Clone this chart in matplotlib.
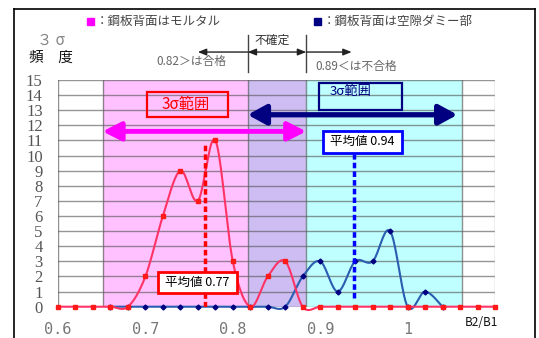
import matplotlib.pyplot as plt
import numpy as np
from matplotlib.patches import Rectangle
from matplotlib.lines import Line2D

plt.rcParams['font.family'] = ['Noto Sans CJK JP', 'DejaVu Sans']

# B2/B1 ratio classes and 3-sigma frequency
x_mortar = [0.60, 0.62, 0.64, 0.66, 0.68, 0.70, 0.72, 0.74, 0.76, 0.78, 0.80, 0.82, 0.84,
            0.86, 0.88, 0.90, 0.92, 0.94, 0.96, 0.98, 1.00, 1.02, 1.04, 1.06, 1.08, 1.10]
y_mortar = [0, 0, 0, 0, 0, 2, 6, 9, 7, 11, 3, 0, 2,
            3, 0, 0, 0, 0, 0, 0, 0, 0, 0, 0, 0, 0]
x_void = [0.66, 0.68, 0.70, 0.72, 0.74, 0.76, 0.78, 0.80, 0.82, 0.84,
          0.86, 0.88, 0.90, 0.92, 0.94, 0.96, 0.98, 1.00, 1.02, 1.04]
y_void = [0, 0, 0, 0, 0, 0, 0, 0, 0, 0,
          0, 2, 3, 1, 3, 3, 5, 0, 1, 0]

mean_mortar = 0.77
mean_void = 0.94
pass_limit = 0.817    # 0.82
fail_limit = 0.884    # 0.89
range_mortar = [0.651, 0.884]
range_void = [0.817, 1.057]
cyan_end = 1.062

xticks = [0.6, 0.7, 0.8, 0.9, 1.0]
xtick_labels = ['0.6', '0.7', '0.8', '0.9', '1']
yticks = list(range(16))

W, H = 539, 338


def fx(x):
    return x / W


def fy(y):
    return 1 - y / H


def smooth(x, y, n=20):
    # excel-like bezier smoothing of the polyline
    x = np.asarray(x, float)
    y = np.asarray(y, float)
    px = np.concatenate([[x[0]], x, [x[-1]]])
    py = np.concatenate([[y[0]], y, [y[-1]]])
    t = np.linspace(0, 1, n)[:, None]
    xs, ys = [], []
    for i in range(1, len(px) - 2):
        p0 = np.array([px[i - 1], py[i - 1]])
        p1 = np.array([px[i], py[i]])
        p2 = np.array([px[i + 1], py[i + 1]])
        p3 = np.array([px[i + 2], py[i + 2]])
        c1 = p1 + (p2 - p0) / 6
        c2 = p2 - (p3 - p1) / 6
        b = (1 - t) ** 3 * p1 + 3 * (1 - t) ** 2 * t * c1 + 3 * (1 - t) * t ** 2 * c2 + t ** 3 * p2
        xs.append(b[:, 0])
        ys.append(b[:, 1])
    return np.concatenate(xs), np.concatenate(ys)


fig = plt.figure(figsize=(W / 100, H / 100), dpi=100)
ax = fig.add_axes([fx(58), fy(306.7), 437 / W, 226.7 / H])
ax.set_xlim(0.6, 1.1)
ax.set_ylim(0, 15)
for s in ax.spines.values():
    s.set_visible(False)

# background bands
ax.axvspan(range_mortar[0], pass_limit, color='#FFC1FF', zorder=0, lw=0)
ax.axvspan(pass_limit, fail_limit, color='#CDBDF3', zorder=0, lw=0)
ax.axvspan(fail_limit, cyan_end, color='#C0FFFF', zorder=0, lw=0)

# grid
for v in yticks:
    ax.axhline(v, color='#505050', alpha=0.6, lw=1, zorder=1)
for v in [0.6, range_mortar[0], pass_limit, fail_limit, cyan_end]:
    ax.axvline(v, color='#606060', alpha=0.7, lw=1, zorder=1)
ax.axvline(1.1, color='#BBBBBB', lw=1, zorder=1)

ax.set_xticks(xticks)
ax.set_xticklabels(xtick_labels, family='DejaVu Sans Mono', fontsize=11, color='#777777')
ax.set_yticks(yticks)
ax.set_yticklabels([str(v) for v in yticks], family='Liberation Serif', fontsize=12, color='#555555')
ax.tick_params(axis='x', length=0, pad=11)
ax.tick_params(axis='y', length=0, pad=11)

# 3 sigma range boxes
ax.add_patch(Rectangle((0.702, 12.55), 0.093, 1.65, fill=False, ec='#FF0000', lw=1.6, zorder=2))
ax.text(0.7455, 13.4, '3σ範囲', color='#FF0000', fontsize=11, ha='center', va='center', zorder=2)
ax.add_patch(Rectangle((0.8986, 13.0), 0.095, 1.8, fill=False, ec='#000080', lw=1.6, zorder=2))
ax.text(0.9345, 14.25, '3σ範囲', color='#000080', fontsize=9.5, ha='center', va='center', zorder=2)

# range arrows
ax.annotate('', xy=(range_mortar[0], 11.6), xytext=(range_mortar[1], 11.6),
            arrowprops=dict(arrowstyle='<|-|>,head_length=0.55,head_width=0.28',
                            mutation_scale=20, lw=3.5, color='#FF00FF',
                            shrinkA=0, shrinkB=0), zorder=3)
ax.annotate('', xy=(range_void[0], 12.7), xytext=(range_void[1], 12.7),
            arrowprops=dict(arrowstyle='<|-|>,head_length=0.55,head_width=0.3',
                            mutation_scale=20, lw=3.8, color='#000080',
                            shrinkA=0, shrinkB=0), zorder=3)

# data lines
sx, sy = smooth(x_void, y_void)
ax.plot(sx, sy, color='#2A5CB0', lw=1.5, zorder=4, clip_on=False)
ax.plot(x_void, y_void, ls='none', marker='D', ms=2.5, color='#000080', zorder=4, clip_on=False)
sx, sy = smooth(x_mortar, y_mortar)
ax.plot(sx, sy, color='#FF3366', lw=1.5, zorder=4, clip_on=False)
ax.plot(x_mortar, y_mortar, ls='none', marker='s', ms=3.2, color='#FF1A1A', zorder=4, clip_on=False)

# mean lines
ax.plot([mean_mortar - 0.002, mean_mortar - 0.002], [0, 10.7], color='#FF0000', lw=2.5,
        ls=(0, (1.6, 0.9)), zorder=5)
ax.plot([mean_void - 0.001, mean_void - 0.001], [0.55, 10.1], color='#0000FF', lw=2.5,
        ls=(0, (1.6, 0.9)), zorder=5)

ax.add_patch(Rectangle((0.7144, 0.9), 0.0904, 1.4, fc='white', ec='#FF0000', lw=2, zorder=6))
ax.text(0.7596, 1.6, '平均値 0.77', fontsize=9, ha='center', va='center', zorder=7)
ax.add_patch(Rectangle((0.903, 10.17), 0.0906, 1.46, fc='white', ec='#0000FF', lw=2, zorder=6))
ax.text(0.9483, 10.9, '平均値 0.94', fontsize=9, ha='center', va='center', zorder=7)

# judgement arrows above the plot
for v in [pass_limit, fail_limit]:
    ax.plot([v, v], [15.53, 17.98], color='#444444', lw=1, clip_on=False)
ax.annotate('', xy=(0.760, 16.85), xytext=(pass_limit, 16.85), annotation_clip=False,
            arrowprops=dict(arrowstyle='-|>,head_length=0.5,head_width=0.2', mutation_scale=10,
                            lw=1, color='#222222', shrinkA=0, shrinkB=0))
ax.annotate('', xy=(0.936, 16.85), xytext=(fail_limit, 16.85), annotation_clip=False,
            arrowprops=dict(arrowstyle='-|>,head_length=0.5,head_width=0.2', mutation_scale=10,
                            lw=1, color='#222222', shrinkA=0, shrinkB=0))
ax.annotate('', xy=(pass_limit, 16.85), xytext=(fail_limit, 16.85), annotation_clip=False,
            arrowprops=dict(arrowstyle='<|-|>,head_length=0.5,head_width=0.2', mutation_scale=10,
                            lw=1, color='#222222', shrinkA=0, shrinkB=0))
ax.text(0.793, 16.2, '0.82＞は合格', fontsize=8.5, color='#666666', ha='right', va='center')
ax.text(0.894, 15.9, '0.89＜は不合格', fontsize=8.5, color='#666666', ha='left', va='center')
ax.text(0.825, 17.65, '不確定', fontsize=8.5, color='#333333', ha='left', va='center')

# legend / titles
fig.add_artist(Rectangle((fx(87), fy(25)), 7 / W, 7 / H, transform=fig.transFigure,
                         color='#FF00FF'))
fig.text(fx(96), fy(21.5), '：鋼板背面はモルタル', fontsize=9, color='#444444', va='center')
fig.add_artist(Rectangle((fx(314), fy(25)), 7 / W, 7 / H, transform=fig.transFigure,
                         color='#000080'))
fig.text(fx(323), fy(21.5), '：鋼板背面は空隙ダミー部', fontsize=9, color='#444444', va='center')
fig.text(fx(37), fy(40), '３ σ', fontsize=11, color='#888888', va='center')
fig.text(fx(29), fy(58), '頻　度', fontsize=10.5, color='#111111', va='center')
fig.text(fx(498), fy(322), 'B2/B1', fontsize=8.5, color='#111111', ha='right', va='center')

# outer frame
for xs_, ys_ in [([14, 14], [9, 338]), ([14, 535], [9, 9]), ([535, 535], [9, 338])]:
    fig.add_artist(Line2D([fx(v) for v in xs_], [fy(v) for v in ys_], color='black', lw=1.2,
                          transform=fig.transFigure))

fig.savefig('out.png', dpi=100)
